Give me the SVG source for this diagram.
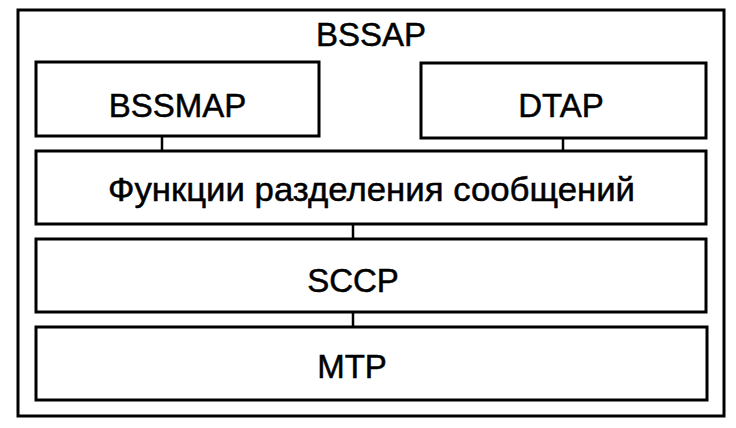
<svg xmlns="http://www.w3.org/2000/svg" width="736" height="428" viewBox="0 0 736 428">
<style>
.box{fill:#fff;stroke:#000;stroke-width:3}
.lbl{font-family:"Liberation Sans",Arial,sans-serif;font-size:33px;fill:#000;stroke:#000;stroke-width:0.5;text-anchor:middle}
.con line{stroke:#000;stroke-width:2.5}
</style>
<rect width="736" height="428" fill="#fff"/>
<g id="bssap">
<rect class="box" x="18" y="10" width="706" height="406"/>
<text class="lbl" x="371" y="46">BSSAP</text>
</g>
<g class="con" id="connectors">
<line x1="162" y1="136" x2="162" y2="151"/>
<line x1="563" y1="138" x2="563" y2="151"/>
<line x1="353" y1="224" x2="353" y2="239"/>
<line x1="353" y1="312" x2="353" y2="327"/>
</g>
<g id="bssmap">
<rect class="box" x="36" y="62" width="283" height="74"/>
<text class="lbl" x="177.5" y="117">BSSMAP</text>
</g>
<g id="dtap">
<rect class="box" x="421" y="63" width="285" height="75"/>
<text class="lbl" x="561" y="117">DTAP</text>
</g>
<g id="discrimination">
<rect class="box" x="36" y="151" width="670" height="73"/>
<text class="lbl" x="371.5" y="201" style="font-size:34px" textLength="527" lengthAdjust="spacingAndGlyphs">Функции разделения сообщений</text>
</g>
<g id="sccp">
<rect class="box" x="36" y="239" width="670" height="73"/>
<text class="lbl" x="353" y="292">SCCP</text>
</g>
<g id="mtp">
<rect class="box" x="36" y="327" width="671" height="73"/>
<text class="lbl" x="352" y="378">MTP</text>
</g>
</svg>
